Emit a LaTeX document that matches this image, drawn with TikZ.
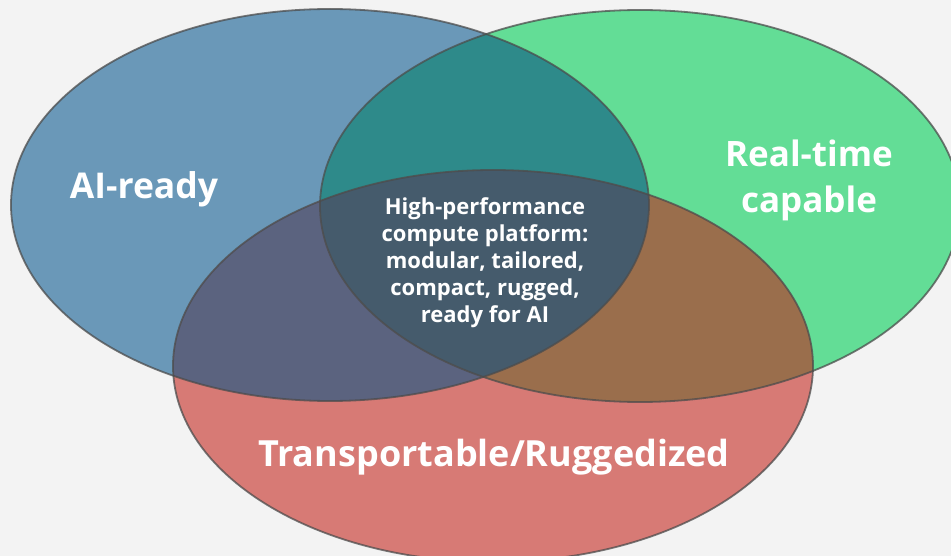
\documentclass[tikz,border=0pt]{standalone}
\usepackage{fontspec}
\setmainfont{Open Sans}
\begin{document}
\begin{tikzpicture}[x=1pt,y=-1pt,
  label/.style={text=white,font=\bfseries,align=center,inner sep=0pt},
  rim/.style={draw=black!70,line width=1.8pt,draw opacity=0.75}]
\definecolor{bgc}{HTML}{F3F3F3}
\definecolor{cblue}{HTML}{6A98B8}
\definecolor{cgreen}{HTML}{63DD96}
\definecolor{cred}{HTML}{D77A75}
\definecolor{cteal}{HTML}{2E8A8A}
\definecolor{cpurple}{HTML}{5B637F}
\definecolor{cbrown}{HTML}{9A6E4C}
\definecolor{ccore}{HTML}{455B6C}
% canvas
\fill[bgc] (0,0) rectangle (951,556);
\useasboundingbox (0,0) rectangle (951,556);
\begin{scope}
\clip (0,0) rectangle (951,556);
% the three sets
\def\ellA{(330,205) ellipse [x radius=319,y radius=196]}
\def\ellB{(640,206) ellipse [x radius=320,y radius=196]}
\def\ellC{(493,366) ellipse [x radius=320,y radius=196]}
\fill[cblue] \ellA;
\fill[cgreen] \ellB;
\fill[cred] \ellC;
% pairwise overlaps
\begin{scope}\clip \ellA; \fill[cteal] \ellB; \end{scope}
\begin{scope}\clip \ellA; \fill[cpurple] \ellC; \end{scope}
\begin{scope}\clip \ellB; \fill[cbrown] \ellC; \end{scope}
% common core
\begin{scope}\clip \ellA; \clip \ellB; \fill[ccore] \ellC; \end{scope}
% outlines
\draw[rim] \ellA;
\draw[rim] \ellB;
\draw[rim] \ellC;
\end{scope}
% labels
\node[label,font=\bfseries\fontsize{35.5}{40}\selectfont] (ai) at (144,189) {AI-ready};
\node[label,font=\bfseries\fontsize{35}{46}\selectfont] (rt) at (809,180) {Real-time\\capable};
\node[label,font=\bfseries\fontsize{36}{44}\selectfont] (tr) at (494,457) {Transportable/Ruggedized};
\node[label,font=\bfseries\fontsize{22}{27}\selectfont] (core) at (485,263)
  {High-performance\\compute platform:\\modular, tailored,\\compact, rugged,\\ready for AI};
\end{tikzpicture}
\end{document}
